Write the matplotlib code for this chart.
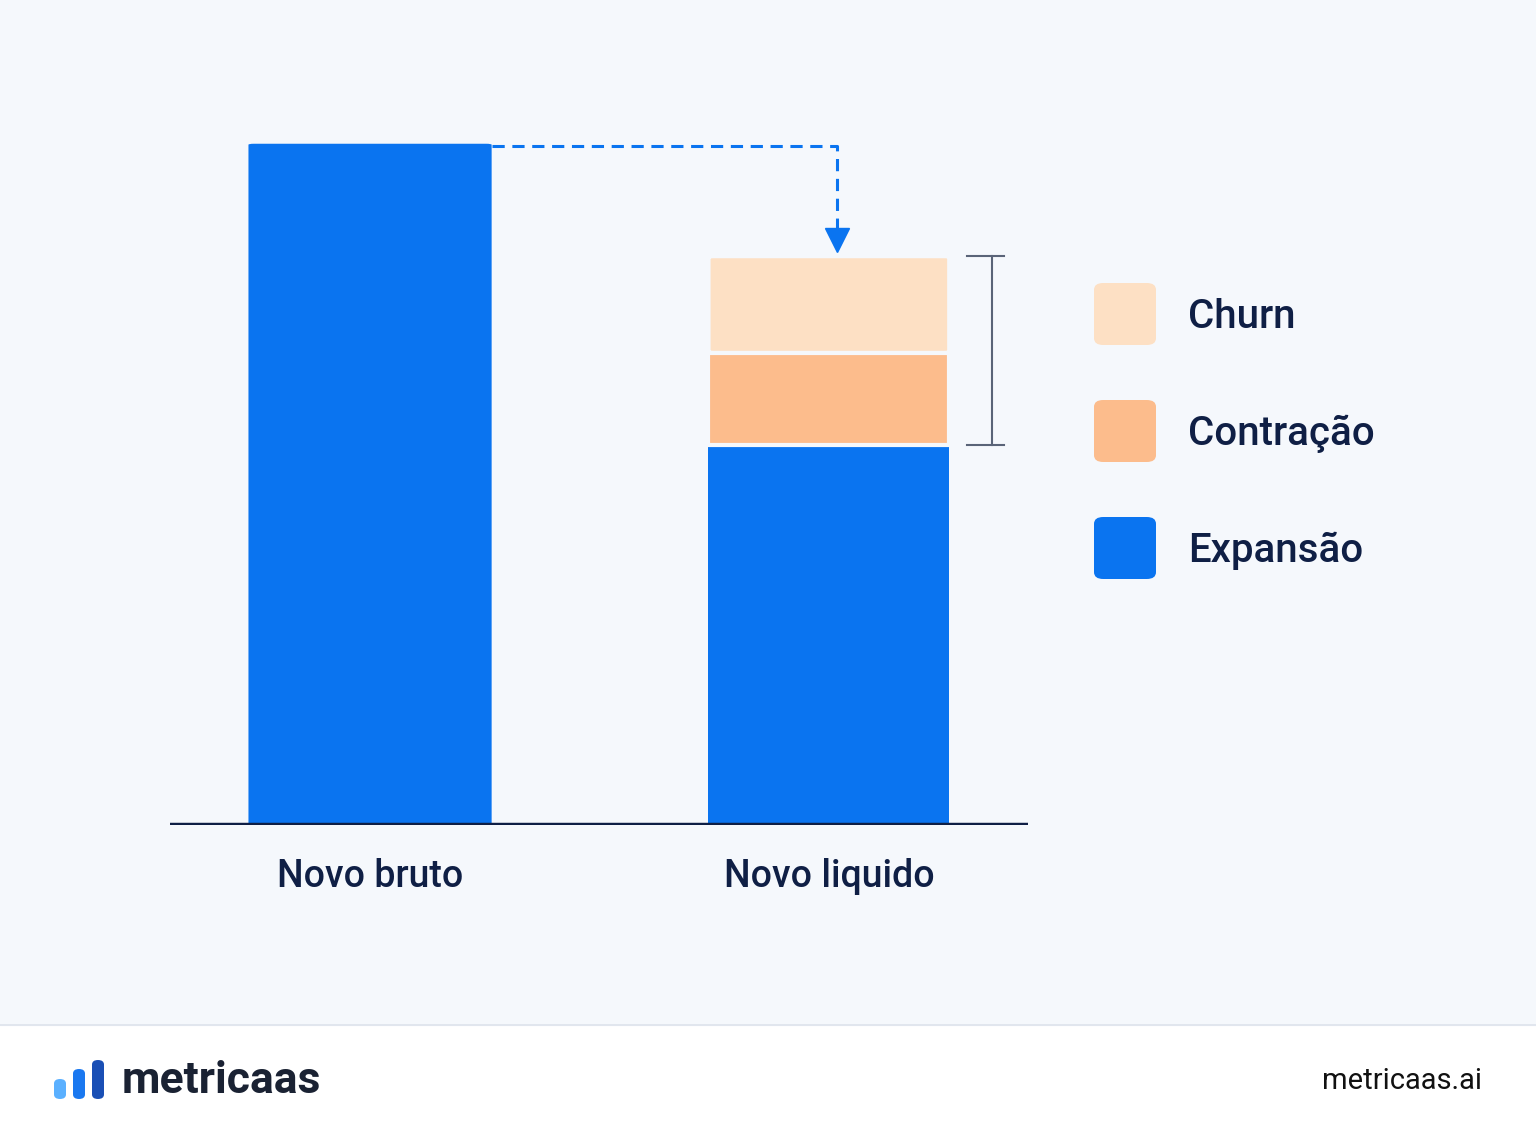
import matplotlib.pyplot as plt
from matplotlib.patches import FancyBboxPatch, Rectangle

plt.rcParams['font.family'] = ['Roboto', 'DejaVu Sans']

categorias = ['Novo bruto', 'Novo liquido']
bruto = 100.0
expansao = 55.8
contracao = 13.5
churn = 14.2
legenda = ['Churn', 'Contração', 'Expansão']

azul = '#0a74f0'
laranja = '#fcbc8c'
pessego = '#fde0c4'
escuro = '#0f1f45'
fundo = '#f5f8fc'

fig = plt.figure(figsize=(15.36, 11.36), dpi=100)
fig.patch.set_facecolor('white')
# fundo da area do grafico
fig.add_artist(Rectangle((0, 111 / 1136), 1, 1, transform=fig.transFigure, color=fundo, zorder=0))
fig.add_artist(plt.Line2D([0, 1], [111 / 1136] * 2, transform=fig.transFigure, color='#dde3ec', lw=1.2))

ax = fig.add_axes([170 / 1536, 311 / 1136, 858 / 1536, 825 / 1136])
ax.set_facecolor('none')
ax.set_xlim(-0.436, 1.434)
ax.set_ylim(0, 121.1)
for s in ax.spines.values():
    s.set_visible(False)
ax.set_yticks([])
ax.set_xticks([])
ax.axhline(0, color=escuro, lw=3.2, zorder=5)

w = 0.53
ax.add_patch(FancyBboxPatch((0 - w / 2, 0), w, bruto, boxstyle='round,pad=0,rounding_size=0.012',
                            mutation_aspect=12, color=azul, lw=0))
ax.bar(1, expansao, w * 0.99, color=azul, lw=0)
ax.bar(1, contracao, w * 0.99, bottom=expansao, color=laranja, edgecolor=fundo, lw=3)
ax.add_patch(FancyBboxPatch((1 - w * 0.99 / 2, expansao + contracao), w * 0.99, churn,
                            boxstyle='round,pad=0,rounding_size=0.012', mutation_aspect=12,
                            facecolor=pessego, edgecolor=fundo, lw=3))

for i, c in enumerate(categorias):
    ax.text(i, -7.5, c, ha='center', va='center', fontsize=27, color=escuro, fontweight='medium')

# seta tracejada
topo = expansao + contracao + churn
ax.plot([w / 2, 1.017, 1.017], [bruto - 0.3, bruto - 0.3, topo + 3.8], color=azul, lw=2.2, ls=(0, (4, 2.5)))
ax.plot(1.017, topo + 2.3, marker='v', ms=17, color=azul, clip_on=False)

# colchete
xb = 1.355
ax.plot([xb, xb], [expansao, topo], color='#5a6478', lw=1.5)
for y in (expansao, topo):
    ax.plot([1.30, 1.381], [y, y], color='#5a6478', lw=1.5)

# legenda
cores = [pessego, laranja, azul]
ys = [314, 431, 548]
for nome, cor, y in zip(legenda, cores, ys):
    fig.add_artist(FancyBboxPatch((1094 / 1536, (1136 - y - 31) / 1136), 62 / 1536, 62 / 1136,
                                  boxstyle='round,pad=0,rounding_size=0.006', transform=fig.transFigure,
                                  color=cor, lw=0))
    fig.text(1188 / 1536, 1 - (y + 3) / 1136, nome, fontsize=29, color=escuro, va='center', fontweight='medium')

# rodape
for x, h, cor in [(54, 20, '#5ab0ff'), (73, 30, '#1a78f0'), (92, 39, '#1a4fb5')]:
    fig.add_artist(FancyBboxPatch((x / 1536, (1136 - 1099) / 1136), 12 / 1536, h / 1136,
                                  boxstyle='round,pad=0,rounding_size=0.004', transform=fig.transFigure,
                                  color=cor, lw=0))
fig.text(122 / 1536, 1 - 1081 / 1136, 'metricaas', fontsize=32, fontweight='bold', color='#1a2233', va='center')
fig.text(1482 / 1536, 1 - 1081 / 1136, 'metricaas.ai', fontsize=21, color='#111111', va='center', ha='right')

fig.savefig('out.png', dpi=100, facecolor=fig.get_facecolor())
